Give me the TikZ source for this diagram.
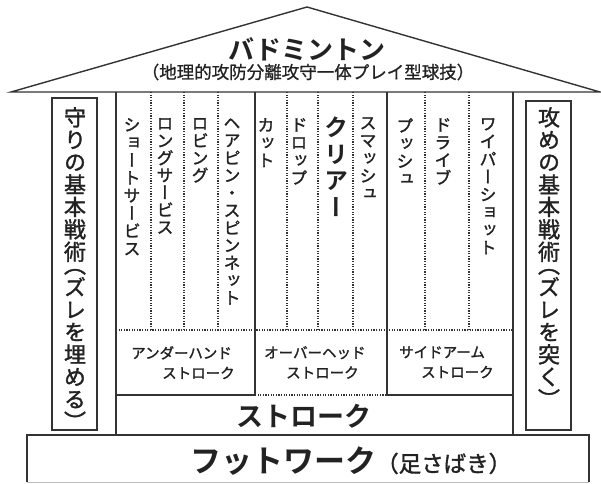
\documentclass[tikz,border=0pt]{standalone}
\usepackage{fontspec}
\newfontfamily\jp[FakeBold=1.5]{Noto Sans CJK JP}
\newfontfamily\jpl[FakeBold=0.8]{Noto Sans CJK JP}
\newfontfamily\jpb{Noto Sans CJK JP Bold}
\newfontfamily\vjp[RawFeature=+vert,FakeBold=1.5]{Noto Sans CJK JP}
\newfontfamily\vjpb[RawFeature=+vert]{Noto Sans CJK JP Bold}
\makeatletter
\def\tate@open{（}
\newcommand\tate[2]{\vbox{\baselineskip=#1\lineskiplimit=-100pt\lineskip=0pt\@tfor\tate@c:=#2\do{\ifx\tate@c\tate@open\vskip-.42\baselineskip\fi\hbox to #1{\hss\tate@c\hss}}}}
\makeatother
\definecolor{ink}{HTML}{222222}
\definecolor{linec}{HTML}{333333}
\tikzset{
  wall/.style={line width=1.4pt, draw=linec},
  dotline/.style={line width=1.1pt, draw=linec, dash pattern=on 1.1pt off 1.5pt},
  coltext/.style={font=\vjp\fontsize{17}{17.6}\selectfont, inner sep=0pt, anchor=north, text=ink},
  bigcol/.style={font=\vjpb\fontsize{24}{26}\selectfont, inner sep=0pt, anchor=north, text=ink},
  pillartext/.style={font=\vjp\fontsize{22}{22.4}\selectfont, inner sep=0pt, anchor=north, text=ink},
  grouplabel/.style={font=\jp\fontsize{14.5}{20}\selectfont, inner sep=0pt, anchor=north west, align=left, text=ink},
}
\begin{document}
\begin{tikzpicture}[x=1pt,y=-1pt]
\useasboundingbox[fill=white] (0,0) rectangle (601,483);
% roof
\draw[wall, line join=miter] (11,92) -- (307,7) -- (600,92) -- cycle;
\node[font=\jpb\fontsize{26}{26}\selectfont, text=ink, inner sep=0] (title) at (307,49) {バドミントン};
\node[font=\jpl\fontsize{17.5}{17.5}\selectfont, text=ink, inner sep=0] (subtitle) at (308,72) {（地理的攻防分離攻守一体プレイ型球技）};
% pillars
\draw[wall] (52,98) rectangle (97,430);
\draw[wall] (526,101) rectangle (571,430);
\node[pillartext] (defense) at (75,107) {\tate{22.4pt}{守りの基本戦術（ズレを埋める）}};
\node[pillartext] (attack) at (549,107) {\tate{22.4pt}{攻めの基本戦術（ズレを突く）}};
% main frame
\draw[wall] (116,92) -- (116,434);
\draw[wall] (513,92) -- (513,434);
\draw[wall] (116,395) -- (255,395) -- (255,92);
\draw[wall] (387,92) -- (387,395) -- (513,395);
\draw[dotline] (255,395) -- (387,395);
\draw[dotline] (116,330) -- (513,330);
\foreach \x in {151,184,218,287,318,353,425,469}{
  \draw[dotline] (\x,92) -- (\x,330);
}
% strokes
\node[coltext] (shortserve) at (132,118) {\tate{17.7pt}{ショートサービス}};
\node[coltext] (longserve) at (165,118) {\tate{17.3pt}{ロングサービス}};
\node[coltext] (lob) at (200,118) {\tate{17.3pt}{ロビング}};
\node[coltext] (hairpin) at (232,118) {\tate{17.5pt}{ヘアピン・スピンネット}};
\node[coltext] (cut) at (266,118) {\tate{17.7pt}{カット}};
\node[coltext] (drop) at (299,118) {\tate{17.7pt}{ドロップ}};
\node[bigcol] (clear) at (336,117) {\tate{26.5pt}{クリアー}};
\node[coltext] (smash) at (368,117) {\tate{17.7pt}{スマッシュ}};
\node[coltext] (push) at (405,118) {\tate{17.7pt}{プッシュ}};
\node[coltext] (drive) at (443,118) {\tate{17.7pt}{ドライブ}};
\node[coltext] (wiper) at (488,118) {\tate{17.7pt}{ワイパーショット}};
% group labels
\node[grouplabel] (under) at (131,346) {アンダーハンド\\\hspace*{31pt}ストローク};
\node[grouplabel] (over) at (264,346) {オーバーヘッド\\\hspace*{22pt}ストローク};
\node[grouplabel] (side) at (399,346) {サイドアーム\\\hspace*{22pt}ストローク};
% stroke base
\node[font=\jpb\fontsize{27}{27}\selectfont, text=ink, inner sep=0] (stroke) at (304,416) {ストローク};
% footwork
\draw[wall] (27,482) -- (27,435) -- (589,435) -- (589,482);
\draw[line width=0.8pt, draw=black!25] (27,482) -- (589,482);
\node[text=ink, inner sep=0, anchor=base west] (footwork) at (190,472) {{\jpb\fontsize{31}{31}\selectfont フットワーク}{\jp\fontsize{22.5}{22.5}\selectfont （足さばき）}};
\end{tikzpicture}
\end{document}
